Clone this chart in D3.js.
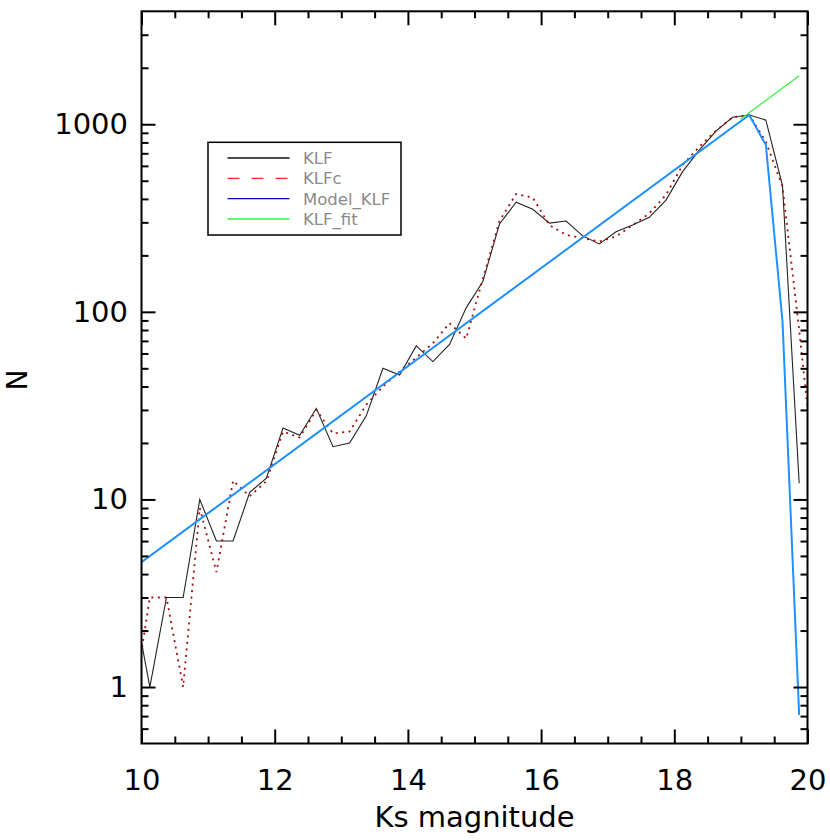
<!DOCTYPE html>
<html>
<head>
<meta charset="utf-8">
<script src="https://cdn.jsdelivr.net/npm/d3@7"></script>
<style>
  html, body { margin: 0; padding: 0; background: #fff; }
  svg { display: block; }
  text { font-family: "DejaVu Sans", sans-serif; }
</style>
</head>
<body>
<svg id="chart" width="830" height="840"></svg>
<script>
// ---------------- data ----------------
const klfMag = [9.875,10.125,10.375,10.625,10.875,11.125,11.375,11.625,11.875,12.125,
  12.375,12.625,12.875,13.125,13.375,13.625,13.875,14.125,14.375,14.625,
  14.875,15.125,15.375,15.625,15.875,16.125,16.375,16.625,16.875,17.125,
  17.375,17.625,17.875,18.125,18.375,18.625,18.875,19.125,19.375,19.625,19.875];
const klfN = [3,1,3,3,10,6,6,10.9,13,24,
  22,30.6,19.1,20,27.9,50,46,65.8,54.3,67,
  105,145,294,384,352,297,305,254,230,267,
  290,319,394,559,728,920,1089,1120,1052,469,12.2];

const klfcMag = [9.875,10.125,10.375,10.625,10.875,11.125,11.375,11.625,11.875,12.125,
  12.375,12.625,12.875,13.125,13.375,13.625,13.875,14.125,14.375,14.625,
  14.875,15.125,15.375,15.625,15.875,16.125,16.375,16.625,16.875,17.125,
  17.375,17.625,17.875,18.125,18.375,18.625,18.875,19.125,19.375,19.625,19.875,20.125];
const klfcN = [0.8,3,3,1,9,4.1,12.6,10.4,12.5,23,
  21.4,30,22.5,23,32,40,48,57,68,87,
  72,150,305,425,406,290,257,247,237,252,
  290,335,420,606,759,924,1089,1120,807,465,80,12];

const modelMag = [10, 19.125, 19.375, 19.625, 19.875];
const modelN   = [4.63, 1120, 775, 88.7, 0.71];

const fitMag = [18.99, 19.875];
const fitN   = [1063, 1815];

const xMajorTicks = [10, 12, 14, 16, 18, 20];
const xMinorTicks = [10.5,11,11.5,12.5,13,13.5,14.5,15,15.5,16.5,17,17.5,18.5,19,19.5];
const yMajorTicks = [1, 10, 100, 1000];
const yMinorTicks = [0.6,0.7,0.8,0.9,2,3,4,5,6,7,8,9,20,30,40,50,60,70,80,90,
  200,300,400,500,600,700,800,900,2000,3000];

const legendLabels = ["KLF", "KLFc", "Model_KLF", "KLF_fit"];

// ---------------- layout ----------------
const L = 141.5, R = 807.5, T = 11.3, B = 743.5;
const svg = d3.select("#chart");

const x = d3.scaleLinear().domain([10, 20]).range([L, R]);
const y = d3.scaleLog().domain([0.5, 4000]).range([B, T]);

// clip
svg.append("defs").append("clipPath").attr("id", "plotclip")
  .append("rect").attr("x", L).attr("y", T).attr("width", R - L).attr("height", B - T);

const plot = svg.append("g").attr("clip-path", "url(#plotclip)");
const line = d3.line().x(d => x(d[0])).y(d => y(d[1]));

const zip = (a, b) => a.map((v, i) => [v, b[i]]);

plot.append("path").datum(zip(klfMag, klfN))
  .attr("d", line).attr("fill", "none")
  .attr("stroke", "#222").attr("stroke-width", 1.1);

plot.append("path").datum(zip(klfcMag, klfcN))
  .attr("d", line).attr("fill", "none")
  .attr("stroke", "#a50d0d").attr("stroke-width", 1.8)
  .attr("stroke-dasharray", "2,4.5");

plot.append("path").datum(zip(modelMag, modelN))
  .attr("d", line).attr("fill", "none")
  .attr("stroke", "#1e90ff").attr("stroke-width", 2);

plot.append("path").datum(zip(fitMag, fitN))
  .attr("d", line).attr("fill", "none")
  .attr("stroke", "#3df03d").attr("stroke-width", 1.2);

// ---------------- axes ----------------
function styleAxis(g) {
  g.selectAll("path.domain").remove();
  g.selectAll("line").attr("stroke", "#000").attr("stroke-width", 2);
  g.selectAll("text").attr("font-size", 29).attr("fill", "#000")
    .attr("font-family", "'DejaVu Sans', sans-serif");
}

// bottom
svg.append("g").attr("transform", `translate(0,${B})`)
  .call(d3.axisBottom(x).tickValues(xMajorTicks).tickSize(-14).tickPadding(26).tickFormat(d3.format("d")))
  .call(styleAxis);
svg.append("g").attr("transform", `translate(0,${B})`)
  .call(d3.axisBottom(x).tickValues(xMinorTicks).tickSize(-7).tickFormat(""))
  .call(styleAxis);
// top
svg.append("g").attr("transform", `translate(0,${T})`)
  .call(d3.axisTop(x).tickValues(xMajorTicks).tickSize(-14).tickFormat(""))
  .call(styleAxis);
svg.append("g").attr("transform", `translate(0,${T})`)
  .call(d3.axisTop(x).tickValues(xMinorTicks).tickSize(-7).tickFormat(""))
  .call(styleAxis);
// left
svg.append("g").attr("transform", `translate(${L},0)`)
  .call(d3.axisLeft(y).tickValues(yMajorTicks).tickSize(-14).tickPadding(13.5).tickFormat(d3.format("d")))
  .call(styleAxis);
svg.append("g").attr("transform", `translate(${L},0)`)
  .call(d3.axisLeft(y).tickValues(yMinorTicks).tickSize(-7).tickFormat(""))
  .call(styleAxis);
// right
svg.append("g").attr("transform", `translate(${R},0)`)
  .call(d3.axisRight(y).tickValues(yMajorTicks).tickSize(-14).tickFormat(""))
  .call(styleAxis);
svg.append("g").attr("transform", `translate(${R},0)`)
  .call(d3.axisRight(y).tickValues(yMinorTicks).tickSize(-7).tickFormat(""))
  .call(styleAxis);

// frame
svg.append("rect").attr("x", L).attr("y", T).attr("width", R - L).attr("height", B - T)
  .attr("fill", "none").attr("stroke", "#000").attr("stroke-width", 2);

// axis titles
svg.append("text").attr("x", (L + R) / 2).attr("y", 827)
  .attr("text-anchor", "middle").attr("font-size", 29).text("Ks magnitude");
svg.append("text").attr("transform", "translate(27,380) rotate(-90)")
  .attr("text-anchor", "middle").attr("font-size", 28).text("N");

// ---------------- legend ----------------
const legColors = ["#111", "#ff2020", "#0000b4", "#3cf03c"];
const legDash = [null, "12,12", null, null];
const leg = svg.append("g");
leg.append("rect").attr("x", 208).attr("y", 142.3).attr("width", 193).attr("height", 92.7)
  .attr("fill", "#fff").attr("stroke", "#000").attr("stroke-width", 1.5);
const rowY = d3.scalePoint().domain(legendLabels).range([158, 219]);
legendLabels.forEach((lab, i) => {
  leg.append("line").attr("x1", 227.5).attr("x2", 289.5)
    .attr("y1", rowY(lab)).attr("y2", rowY(lab))
    .attr("stroke", legColors[i]).attr("stroke-width", 1.3)
    .attr("stroke-dasharray", legDash[i]);
  leg.append("text").attr("x", 303).attr("y", rowY(lab) + 6)
    .attr("font-size", 16.5).attr("fill", "#8a8a8a").text(lab);
});
</script>
</body>
</html>
